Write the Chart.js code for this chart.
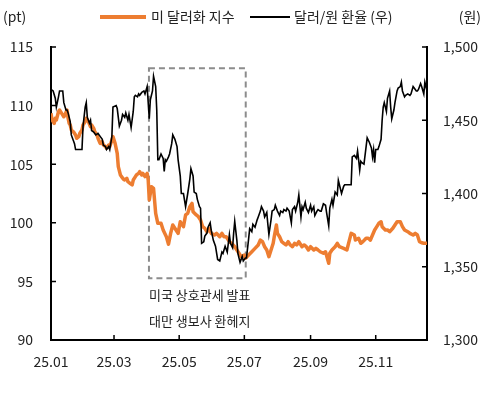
<!DOCTYPE html>
<html>
<head>
<meta charset="utf-8">
<script src="https://cdn.jsdelivr.net/npm/chart.js@4/dist/chart.umd.min.js"></script>
<style>
  html, body { margin: 0; padding: 0; background: #fff; }
  #wrap { width: 484px; height: 400px; position: relative; }
</style>
</head>
<body>
<div id="wrap"><canvas id="c" width="484" height="400"></canvas></div>
<script>
// ---- Data (day = days since 2025-01-01) ----
const usdDays = [0,1,3,4,5,7,8,10,12,13,15,16,17,18,19,21,23,24,26,27,29,30,32,33,35,37,38,40,41,43,44,46,48,49,51,52,54,55,57,58,60,62,63,65,66,68,69,71,72,74,76,77,79,80,82,83,85,86,88,90,91,92,94,96,98,100,103,105,108,110,112,114,117,119,121,124,126,128,130,132,133,136,138,140,142,144,146,148,150,153,155,158,160,162,164,167,169,172,174,176,178,181,182,185,188,191,194,196,198,200,202,204,206,208,209,211,212,214,216,218,220,222,224,226,228,230,232,235,237,239,241,243,246,248,250,252,255,257,260,261,263,266,268,270,274,277,279,281,284,285,288,290,292,295,297,299,301,303,305,307,309,310,313,315,317,320,322,324,327,329,331,334,336,339,341,343,345,347,349,352];
const usdIndex = [109.34,108.77,108.49,108.92,108.77,109.48,109.62,109.34,109.05,109.2,109.62,108.92,108.49,108.35,107.92,107.77,107.49,107.21,107.35,107.64,107.92,108.35,108.63,108.92,108.63,108.2,108.35,108.06,107.77,107.49,107.21,106.78,106.92,106.64,106.5,106.36,106.64,106.5,107.07,107.35,106.78,105.93,104.79,104.08,103.94,103.71,103.65,103.8,103.51,103.37,103.23,103.65,103.94,104.08,104.22,104.36,104.08,104.22,103.94,104.22,103.65,101.95,103.08,102.94,100.81,99.96,99.96,99.39,98.81,98.17,99.1,99.81,99.39,99.1,100.09,99.67,100.67,100.81,101.38,101.66,100.95,100.67,100.52,100.24,99.67,99.53,99.24,99.53,99.1,98.96,99.1,98.81,99.1,98.81,98.81,98.39,98.25,97.96,97.68,97.4,97.11,97.25,96.97,97.25,97.53,97.82,98.11,98.53,98.39,97.96,97.68,97.11,97.68,98.25,98.81,99.81,99.1,98.81,98.39,98.25,98.11,98.39,98.11,97.96,98.25,98.11,98.39,97.96,98.11,97.96,97.68,97.96,97.68,97.82,97.68,97.53,97.4,97.53,96.55,97.4,97.68,97.96,98.25,97.96,97.82,97.68,98.39,99.1,98.96,98.53,98.68,98.25,98.39,98.68,98.68,98.53,98.96,99.39,99.67,99.96,100.09,99.67,99.39,99.39,99.24,99.53,99.81,100.09,100.09,99.67,99.39,99.24,99.1,98.96,99.1,98.96,98.39,98.3,98.25,98.25];

const krwDays = [0,2,4,5,7,8,11,12,14,15,16,18,19,22,23,26,29,30,32,33,34,36,37,38,40,42,44,46,48,49,51,52,54,55,57,58,61,62,64,66,67,69,70,72,73,75,77,78,79,81,82,83,85,87,88,90,92,93,95,96,98,99,100,101,103,105,106,107,108,110,111,113,114,116,118,119,121,122,124,126,128,130,131,133,134,136,137,139,140,141,143,144,146,147,149,150,152,154,156,158,160,161,163,165,167,168,170,171,172,174,175,177,179,180,182,183,185,186,188,189,191,193,194,196,197,199,200,202,203,204,206,207,209,210,212,214,215,217,218,220,221,223,225,226,228,229,231,232,234,235,236,238,239,241,243,244,246,247,249,250,252,253,255,257,258,260,261,263,264,266,268,269,270,272,274,275,278,281,282,284,286,287,288,289,290,291,293,295,296,298,300,301,302,303,304,306,307,309,310,311,312,314,315,317,318,319,321,322,324,325,327,328,329,331,332,334,336,337,339,340,342,343,344,346,347,349,350,352];
const krwRate = [1471,1470,1465,1459,1466,1470,1470,1462,1457,1457,1455,1449,1440,1434,1430,1430,1430,1446,1459,1462,1452,1448,1450,1443,1442,1440,1441,1439,1437,1433,1432,1430,1432,1430,1439,1459,1460,1458,1446,1450,1454,1452,1455,1450,1454,1445,1456,1466,1467,1466,1468,1467,1469,1470,1468,1473,1451,1464,1470,1480,1473,1457,1423,1423,1427,1424,1415,1423,1422,1425,1427,1434,1440,1437,1432,1423,1412,1400,1400,1391,1400,1410,1417,1412,1401,1400,1396,1391,1390,1366,1367,1371,1373,1377,1380,1375,1368,1364,1355,1354,1360,1359,1364,1360,1372,1366,1363,1373,1381,1368,1359,1353,1357,1354,1356,1356,1369,1376,1374,1379,1377,1382,1384,1388,1391,1388,1384,1387,1379,1372,1382,1388,1389,1392,1388,1385,1388,1387,1389,1388,1390,1388,1380,1389,1391,1388,1394,1399,1384,1391,1389,1394,1390,1387,1392,1388,1391,1385,1388,1389,1388,1388,1393,1392,1387,1378,1390,1396,1392,1401,1399,1409,1406,1400,1405,1406,1406,1406,1425,1426,1424,1429,1423,1416,1422,1421,1420,1432,1438,1435,1431,1425,1430,1421,1430,1430,1432,1437,1450,1459,1462,1456,1465,1470,1459,1451,1457,1462,1470,1472,1473,1476,1470,1466,1467,1468,1467,1468,1473,1472,1470,1470,1471,1475,1473,1468,1476,1470];

// ---- Axis ticks ----
const monthTickDays = [0, 59, 120, 181, 243, 304];
const monthTickLabels = ['25.01', '25.03', '25.05', '25.07', '25.09', '25.11'];
const leftTicks = [90, 95, 100, 105, 110, 115];
const rightTicks = [1300, 1350, 1400, 1450, 1500];

// ---- Text ----
const seriesNames = ['미 달러화 지수', '달러/원 환율 (우)'];
const leftUnit = '(pt)';
const rightUnit = '(원)';
const noteLines = ['미국 상호관세 발표', '대만 생보사 환헤지'];
// highlighted period (days) and range (left-axis values)
const boxDays = [91.7, 182.3];
const boxValues = [113.18, 95.27];

const ORANGE = '#ED7D31';
const FONT = "'Noto Sans CJK KR', 'Noto Sans', sans-serif";

const overlay = {
  id: 'overlay',
  beforeDatasetsDraw(chart) {
    const {ctx, scales} = chart;
    const x1 = scales.x.getPixelForValue(boxDays[0]);
    const x2 = scales.x.getPixelForValue(boxDays[1]);
    const y1 = scales.y.getPixelForValue(boxValues[0]);
    const y2 = scales.y.getPixelForValue(boxValues[1]);
    ctx.save();
    ctx.strokeStyle = '#8c8c8c';
    ctx.lineWidth = 2;
    ctx.setLineDash([6, 4]);
    ctx.strokeRect(x1, y1, x2 - x1, y2 - y1);
    ctx.restore();
  },
  afterDraw(chart) {
    const {ctx, scales, chartArea} = chart;
    ctx.save();
    // tick marks (inward)
    ctx.strokeStyle = '#000';
    ctx.lineWidth = 1.5;
    ctx.beginPath();
    leftTicks.forEach(v => {
      const y = scales.y.getPixelForValue(v);
      ctx.moveTo(chartArea.left, y); ctx.lineTo(chartArea.left + 5, y);
    });
    rightTicks.forEach(v => {
      const y = scales.y1.getPixelForValue(v);
      ctx.moveTo(chartArea.right, y); ctx.lineTo(chartArea.right - 5, y);
    });
    monthTickDays.forEach(v => {
      const x = scales.x.getPixelForValue(v);
      ctx.moveTo(x, chartArea.bottom); ctx.lineTo(x, chartArea.bottom - 5);
    });
    ctx.stroke();

    // notes
    const bx = scales.x.getPixelForValue(boxDays[0]);
    const by = scales.y.getPixelForValue(boxValues[1]);
    ctx.fillStyle = '#222';
    ctx.font = '13px ' + FONT;
    ctx.textBaseline = 'middle';
    ctx.textAlign = 'left';
    ctx.fillText(noteLines[0], bx, by + 17);
    ctx.fillText(noteLines[1], bx, by + 43);

    // legend
    const ly = 17;
    ctx.font = '14px ' + FONT;
    ctx.lineCap = 'butt';
    ctx.strokeStyle = ORANGE; ctx.lineWidth = 4;
    ctx.beginPath(); ctx.moveTo(100, ly); ctx.lineTo(146, ly); ctx.stroke();
    ctx.fillText(seriesNames[0], 151, ly);
    ctx.strokeStyle = '#000'; ctx.lineWidth = 2;
    ctx.beginPath(); ctx.moveTo(250, ly); ctx.lineTo(290, ly); ctx.stroke();
    ctx.fillText(seriesNames[1], 294, ly);

    // units
    ctx.fillText(leftUnit, 3, ly);
    ctx.textAlign = 'right';
    ctx.fillText(rightUnit, 481, ly);
    ctx.restore();
  }
};

const tickFont = { family: FONT, size: 14 };

new Chart(document.getElementById('c'), {
  type: 'line',
  data: {
    datasets: [
      {
        label: seriesNames[1],
        data: krwDays.map((d, i) => ({ x: d, y: krwRate[i] })),
        yAxisID: 'y1',
        borderColor: '#000',
        borderWidth: 1.6,
        pointRadius: 0,
        tension: 0,
        order: 0
      },
      {
        label: seriesNames[0],
        data: usdDays.map((d, i) => ({ x: d, y: usdIndex[i] })),
        yAxisID: 'y',
        borderColor: ORANGE,
        borderWidth: 3.5,
        pointRadius: 0,
        tension: 0,
        borderJoinStyle: 'round',
        order: 1
      }
    ]
  },
  options: {
    responsive: false,
    animation: false,
    devicePixelRatio: 1,
    layout: { padding: { top: 47, left: 0, right: 0, bottom: 0 } },
    plugins: { legend: { display: false }, tooltip: { enabled: false } },
    scales: {
      x: {
        type: 'linear',
        min: 0, max: 352,
        afterBuildTicks: s => { s.ticks = monthTickDays.map(v => ({ value: v })); },
        afterFit: s => { s.height = 60; },
        ticks: {
          callback: v => monthTickLabels[monthTickDays.indexOf(v)],
          font: tickFont, color: '#222', padding: 13, maxRotation: 0, autoSkip: false
        },
        grid: { display: true, drawOnChartArea: false, drawTicks: false },
        border: { display: true, color: '#000', width: 2 }
      },
      y: {
        position: 'left',
        min: 90, max: 115,
        afterBuildTicks: s => { s.ticks = leftTicks.map(v => ({ value: v })); },
        afterFit: s => { s.width = 51; },
        ticks: { font: tickFont, color: '#222', padding: 18 },
        grid: { display: true, drawOnChartArea: false, drawTicks: false },
        border: { display: true, color: '#000', width: 2 }
      },
      y1: {
        position: 'right',
        min: 1300, max: 1500,
        afterBuildTicks: s => { s.ticks = rightTicks.map(v => ({ value: v })); },
        afterFit: s => { s.width = 57; },
        ticks: {
          font: tickFont, color: '#222', padding: 16,
          callback: v => v.toLocaleString('en-US')
        },
        grid: { display: true, drawOnChartArea: false, drawTicks: false },
        border: { display: true, color: '#000', width: 2 }
      }
    }
  },
  plugins: [overlay]
});
</script>
</body>
</html>
